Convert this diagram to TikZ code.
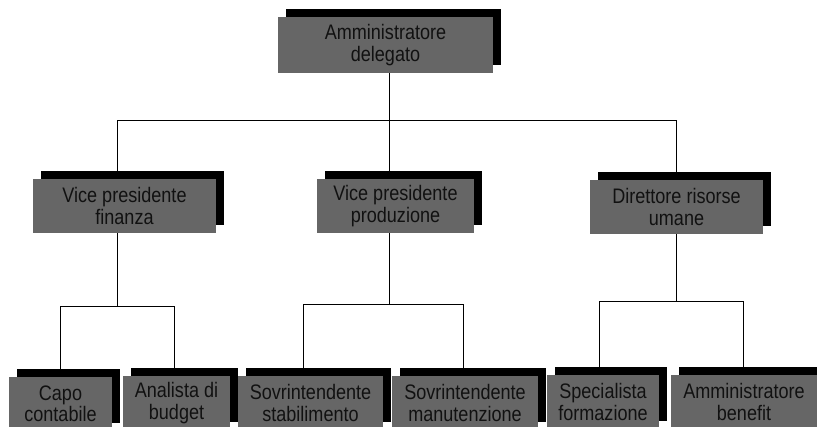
\documentclass[tikz,border=0pt]{standalone}
\usepackage{fontspec}
\setmainfont[FakeStretch=0.86]{Liberation Sans}
\usetikzlibrary{shadows,backgrounds}
\definecolor{boxgray}{HTML}{666666}
\definecolor{txt}{HTML}{111111}
\tikzset{
  orgbox/.style={fill=boxgray, draw=none, inner sep=0pt, align=center,
    text=txt, font=\fontsize{21}{21.5}\selectfont,
    minimum height=54pt,
    general shadow={fill=black, shadow xshift=8pt, shadow yshift=8pt}},
  link/.style={draw=black, line width=0.8pt}
}
\begin{document}
\begin{tikzpicture}[x=1pt,y=-1pt]
\useasboundingbox (0,0) rectangle (817,426);
\clip (0,0) rectangle (817,426);
% level 1
\node[orgbox, minimum width=215pt, minimum height=56pt] (top) at (385.5,45) {Amministratore\\delegato};
% level 2
\node[orgbox, minimum width=183pt] (vpf) at (124.5,206) {Vice presidente\\finanza};
\node[orgbox, minimum width=157pt] (vpp) at (395.5,206) {Vice presidente\\produzione};
\node[orgbox, minimum width=173pt] (dru) at (676.5,207) {Direttore risorse\\umane};
% level 3
\node[orgbox, minimum width=103pt] (capo) at (60.5,404) {Capo\\contabile};
\node[orgbox, minimum width=107pt] (anal) at (176.5,403) {Analista di\\budget};
\node[orgbox, minimum width=145pt] (stab) at (310.5,403) {Sovrintendente\\stabilimento};
\node[orgbox, minimum width=146pt] (manut) at (465,403) {Sovrintendente\\manutenzione};
\node[orgbox, minimum width=112pt] (spec) at (603,402) {Specialista\\formazione};
\node[orgbox, minimum width=146pt] (ben) at (744,402) {Amministratore\\benefit};
% junctions
\coordinate (j0) at (389,120);
\coordinate (jl) at (117,120);
\coordinate (jr) at (676,120);
\coordinate (fa) at (117,306);
\coordinate (fl) at (60,306);
\coordinate (fr) at (174,306);
\coordinate (pa) at (389,304);
\coordinate (pl) at (303,304);
\coordinate (pr) at (463,304);
\coordinate (ra) at (676,301);
\coordinate (rl) at (599,301);
\coordinate (rr) at (743,301);
\begin{scope}[on background layer]
\draw[link] (j0 |- top.south) -- (j0 |- vpp.north);
\draw[link] (jl |- vpf.north) -- (jl) -- (jr) -- (jr |- dru.north);
\draw[link] (fa |- vpf.south) -- (fa);
\draw[link] (fl |- capo.north) -- (fl) -- (fr) -- (fr |- anal.north);
\draw[link] (pa |- vpp.south) -- (pa);
\draw[link] (pl |- stab.north) -- (pl) -- (pr) -- (pr |- manut.north);
\draw[link] (ra |- dru.south) -- (ra);
\draw[link] (rl |- spec.north) -- (rl) -- (rr) -- (rr |- ben.north);
\end{scope}
\end{tikzpicture}
\end{document}
